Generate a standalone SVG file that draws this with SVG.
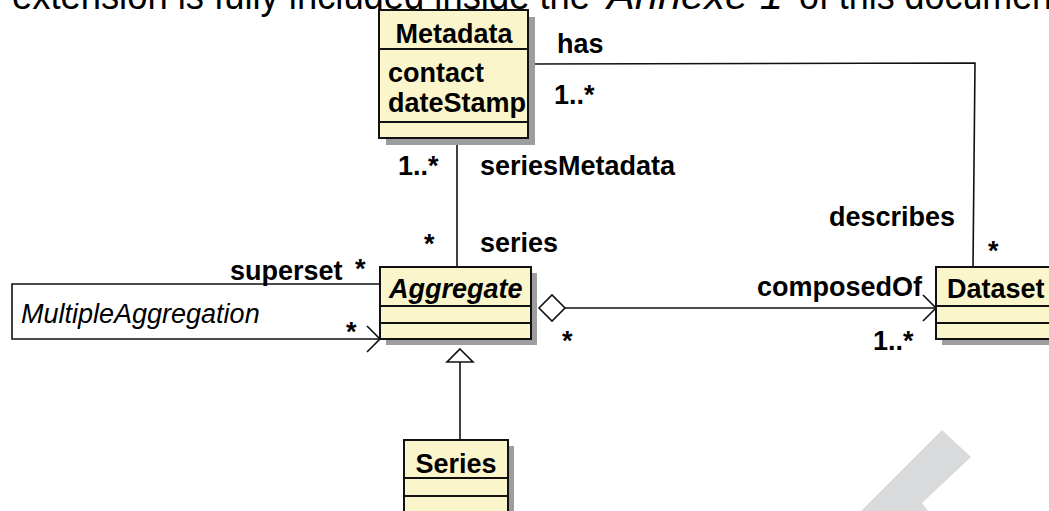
<svg xmlns="http://www.w3.org/2000/svg" width="1049" height="511" viewBox="0 0 1049 511">
  <style>
    .box { fill: #faf5cb; stroke: #111; stroke-width: 2; }
    .shadow { fill: #9d9d9d; }
    .div { stroke: #111; stroke-width: 2; }
    .edge { fill: none; stroke: #111; stroke-width: 1.6; }
    .name { font-family: "Liberation Sans", Arial, sans-serif; font-size: 27px; font-weight: bold; fill: #000; }
    .lbl { font-family: "Liberation Sans", Arial, sans-serif; font-size: 27px; font-weight: bold; fill: #000; }
    .note { font-family: "Liberation Sans", Arial, sans-serif; font-size: 27px; font-style: italic; fill: #000; }
    .head { font-family: "Liberation Sans", Arial, sans-serif; font-size: 38px; fill: #000; }
  </style>
  <defs>
    <marker id="openArrow" markerUnits="userSpaceOnUse" viewBox="-15 -15 30 30" markerWidth="30" markerHeight="30" refX="0" refY="0" orient="auto" overflow="visible">
      <path d="M-13,-13 L0,0 L-13,13" fill="none" stroke="#111" stroke-width="1.6"/>
    </marker>
  </defs>

  <rect width="1049" height="511" fill="#fff"/>

  <!-- running text line above the figure -->
  <g id="caption">
    <text class="head" x="12" y="9" textLength="578" lengthAdjust="spacingAndGlyphs">extension is fully included inside the</text>
    <text class="head" x="607" y="9" font-style="italic" textLength="176" lengthAdjust="spacingAndGlyphs">Annexe 1</text>
    <text class="head" x="799" y="9" textLength="263" lengthAdjust="spacingAndGlyphs">of this document</text>
  </g>

  <!-- watermark stroke -->
  <polygon points="861,511 942,430 971,457 922,503 928,511" fill="#d9dadb"/>

  <!-- associations -->
  <g id="connectors">
    <!-- Metadata has / describes Dataset -->
    <polyline class="edge" points="528,64 975,63 973,267"/>
    <!-- seriesMetadata -->
    <line class="edge" x1="457" y1="138" x2="457" y2="267"/>
    <!-- composedOf aggregation -->
    <line class="edge" x1="565" y1="308" x2="936" y2="308" marker-end="url(#openArrow)"/>
    <polygon points="539,308 552,295 565,308 552,321" fill="#fff" stroke="#111" stroke-width="1.6"/>
    <!-- MultipleAggregation self association -->
    <polyline class="edge" points="380,284 12,284 12,339 380,339" marker-end="url(#openArrow)"/>
    <!-- Series generalization -->
    <line class="edge" x1="460" y1="362" x2="460" y2="440"/>
    <polygon points="460,349 473,362 447,362" fill="#fff" stroke="#111" stroke-width="1.6"/>

    <text class="lbl" x="557" y="53">has</text>
    <text class="lbl" x="554" y="104">1..*</text>
    <text class="lbl" x="398" y="175">1..*</text>
    <text class="lbl" x="480" y="175">seriesMetadata</text>
    <text class="lbl" x="424" y="253">*</text>
    <text class="lbl" x="480" y="252">series</text>
    <text class="lbl" x="829" y="226">describes</text>
    <text class="lbl" x="988" y="260">*</text>
    <text class="lbl" x="757" y="296">composedOf</text>
    <text class="lbl" x="873" y="350">1..*</text>
    <text class="lbl" x="562" y="350">*</text>
    <text class="lbl" x="230" y="280">superset</text>
    <text class="lbl" x="355" y="278">*</text>
    <text class="lbl" x="346" y="341">*</text>
    <text class="note" x="21" y="323">MultipleAggregation</text>
  </g>

  <g id="metadata">
    <rect class="shadow" x="386" y="17" width="149" height="128"/>
    <rect class="box" x="379" y="10" width="149" height="128"/>
    <line class="div" x1="379" y1="49" x2="528" y2="49"/>
    <line class="div" x1="379" y1="122" x2="528" y2="122"/>
    <text class="name" x="454" y="43" text-anchor="middle">Metadata</text>
    <text class="name" x="388" y="82">contact</text>
    <text class="name" x="388" y="112">dateStamp</text>
  </g>

  <g id="aggregate">
    <rect class="shadow" x="386" y="273" width="151" height="72"/>
    <rect class="box" x="380" y="267" width="151" height="72"/>
    <line class="div" x1="380" y1="306" x2="531" y2="306"/>
    <line class="div" x1="380" y1="323" x2="531" y2="323"/>
    <text class="name" x="389" y="298" font-style="italic">Aggregate</text>
  </g>

  <g id="dataset">
    <rect class="shadow" x="942" y="273" width="120" height="72"/>
    <rect class="box" x="936" y="267" width="120" height="72"/>
    <line class="div" x1="936" y1="306" x2="1056" y2="306"/>
    <line class="div" x1="936" y1="323" x2="1056" y2="323"/>
    <text class="name" x="947" y="298">Dataset</text>
  </g>

  <g id="series">
    <rect class="shadow" x="410" y="446" width="104" height="72"/>
    <rect class="box" x="404" y="440" width="104" height="73"/>
    <line class="div" x1="404" y1="478" x2="508" y2="478"/>
    <line class="div" x1="404" y1="496" x2="508" y2="496"/>
    <text class="name" x="456" y="473" text-anchor="middle">Series</text>
  </g>
</svg>
